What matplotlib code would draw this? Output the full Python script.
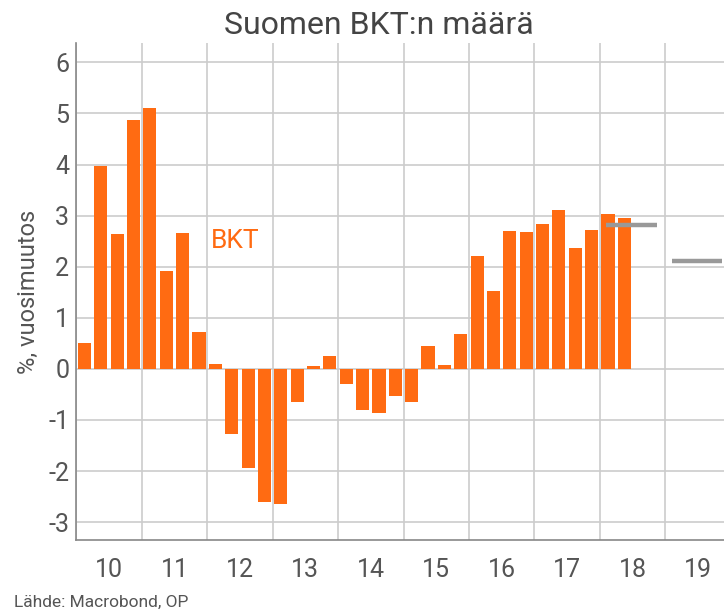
import numpy as np
import matplotlib
matplotlib.use("Agg")
import matplotlib.pyplot as plt

plt.rcParams['font.family'] = ['Roboto', 'DejaVu Sans']

# quarterly GDP growth, % y/y, 2010Q1 - 2018Q2
years = list(range(2010, 2019))
gdp = [0.50, 3.97, 2.65, 4.88,
       5.10, 1.92, 2.67, 0.72,
       0.10, -1.28, -1.94, -2.60,
       -2.64, -0.64, 0.05, 0.25,
       -0.29, -0.81, -0.87, -0.54,
       -0.64, 0.45, 0.07, 0.68,
       2.21, 1.53, 2.69, 2.68,
       2.84, 3.11, 2.37, 2.71,
       3.03, 2.96]
# forecasts
fc_years = [2018, 2019]
fc_vals = [2.82, 2.11]
year_labels = ["10", "11", "12", "13", "14", "15", "16", "17", "18", "19"]

orange = "#ff6b12"
grey_txt = "#555555"

fig = plt.figure(figsize=(7.24, 6.13), dpi=100)
ax = fig.add_axes([76.3 / 724, 73 / 613, 654.4 / 724, 497 / 613])

x = 2010 + np.arange(len(gdp)) / 4 + 0.125
ax.bar(x, gdp, width=0.2, color=orange, zorder=3)

for yr, v in zip(fc_years, fc_vals):
    ax.plot([yr + 0.1, yr + 0.87], [v, v], color="#999999", lw=3.2,
            solid_capstyle="butt", zorder=4)

ax.text(2012.05, 2.5, "BKT", color=orange, fontsize=19, va="center", ha="left")

ax.set_xlim(2010, 2020)
ax.set_ylim(-3.35, 6.38)
ax.set_yticks(range(-3, 7))
ax.set_yticklabels([str(v) for v in range(-3, 7)])
ax.set_xticks(range(2010, 2021))
ax.set_xticklabels([])
ax.set_xticks([2010.5 + i for i in range(len(year_labels))], minor=True)
ax.set_xticklabels(year_labels, minor=True)
ax.tick_params(axis="x", which="both", length=0)
ax.tick_params(axis="x", which="minor", pad=13, labelsize=18, labelcolor=grey_txt)
ax.tick_params(axis="y", length=0, pad=5, labelsize=18, labelcolor=grey_txt)

ax.grid(True, which="major", color="#cccccc", lw=1.2, zorder=0)
for s in ["top", "right"]:
    ax.spines[s].set_visible(False)
for s in ["left", "bottom"]:
    ax.spines[s].set_color("#888888")
    ax.spines[s].set_linewidth(1.2)

ax.set_ylabel("%, vuosimuutos", fontsize=17, color=grey_txt, labelpad=6)
fig.text(379 / 724, 1 - 25 / 613, "Suomen BKT:n määrä", fontsize=23,
         color="#444444", ha="center", va="center")
fig.text(14 / 724, 1 - 602 / 613, "Lähde: Macrobond, OP", fontsize=12.5,
         color=grey_txt, ha="left", va="center")

fig.savefig("out.png", dpi=100)
